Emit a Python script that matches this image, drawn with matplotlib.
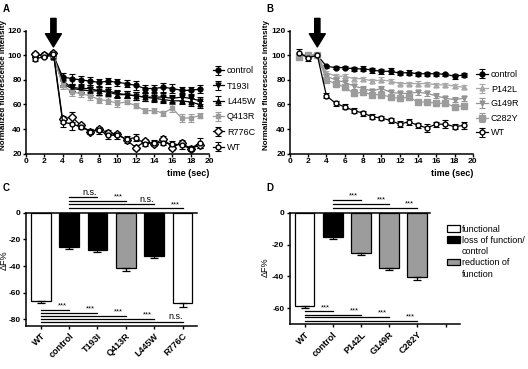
import numpy as np
import matplotlib.pyplot as plt
from matplotlib.patches import Patch

plt.rcParams['font.family'] = ['Liberation Sans', 'DejaVu Sans']
plt.rcParams['font.size'] = 6.5
plt.rcParams['axes.linewidth'] = 1.1
plt.rcParams['axes.unicode_minus'] = False

# time points (sec)
t = np.arange(1, 20)

# panel A: normalized fluorescence intensity
a_control = [100, 100, 100, 82.5, 81, 80, 79, 78, 79, 78, 77, 75.5, 73, 73, 74, 73, 71.5, 71.5, 72.5]
a_control_err = [1.5, 1.5, 1.5, 3, 4, 3, 3, 3, 2.5, 3, 3, 3.5, 3, 3, 3.5, 3.5, 3, 3, 3.5]
a_t193i = [100, 100, 100, 79, 74, 73, 73, 71, 71, 69, 68, 67, 66, 66, 66, 65, 66, 65, 63]
a_t193i_err = [1.5, 1.5, 1.5, 3, 3, 3, 3, 3, 3, 3, 3, 3, 3, 3, 3, 3, 3, 3, 3]
a_l445w = [100, 100, 99, 77, 73, 72, 71, 71, 70, 68, 68, 67, 66, 65, 64, 63, 63, 62, 60]
a_l445w_err = [1.5, 1.5, 1.5, 3, 3, 3, 3, 3, 3, 3, 3, 3, 3, 3, 3, 3, 3, 3, 3]
a_q413r = [101, 100, 100, 76, 70, 69, 67, 64, 63, 61, 62, 59, 55, 55, 53, 57, 49, 49, 51]
a_q413r_err = [1.5, 1.5, 1.5, 3, 3, 3, 3, 3, 3, 3, 2, 2, 2, 2, 2, 3, 3, 3, 2]
a_r776c = [101, 100, 102, 48, 50, 43, 38, 40, 37, 36, 31, 25, 30, 28, 32, 25, 29, 24, 27]
a_r776c_err = [1.5, 1.5, 1.5, 3, 4, 2, 2, 2, 2, 2, 2, 2, 2, 2, 2, 2, 2, 2, 2]
a_wt = [97, 99, 101, 46, 44, 42, 38, 39, 35, 35, 32, 33, 28, 29, 29, 28, 27, 24, 29]
a_wt_err = [1.5, 1.5, 1.5, 4, 5, 2, 2, 3, 3, 3, 2, 3, 2, 2, 2, 2, 3, 2, 4]

# panel B
b_control = [100, 100, 100, 91, 90, 90, 89, 89, 88, 87, 87, 85.5, 86, 85, 85, 85, 84.5, 83, 84]
b_control_err = [1.5, 1.5, 1.5, 1.5, 1.5, 1.5, 1.5, 2, 2, 2, 2.5, 1.5, 2, 1.5, 1.5, 1.5, 1.5, 2, 2]
b_p142l = [100, 100, 100, 86, 83, 83, 81, 81, 79, 80, 79, 77, 77, 77, 77, 76, 76, 75, 74]
b_p142l_err = [1.5, 1.5, 1.5, 1.5, 1.5, 1.5, 1.5, 1.5, 1.5, 2, 1.5, 1.5, 1.5, 2, 1.5, 1.5, 1.5, 1.5, 1.5]
b_g149r = [100, 100, 100, 83, 80, 78, 75, 73, 71, 73, 70, 69, 69, 70, 69, 67, 65, 64, 65]
b_g149r_err = [1.5, 1.5, 1.5, 2, 2, 2, 2, 2, 2, 2, 2, 2, 2, 2, 2, 2, 2, 2, 2]
b_c282y = [99, 100, 100, 80, 77, 74, 69, 70, 68, 68, 66, 65, 66, 62, 62, 61, 61, 58, 59]
b_c282y_err = [2, 1.5, 1.5, 2, 2, 2, 2, 2, 2, 2, 2, 2, 2, 2, 2, 2, 2, 2, 2]
b_wt = [102, 98, 100, 67, 61, 58, 55, 53, 50, 49, 47, 44, 46, 43, 41, 44, 44, 42, 43]
b_wt_err = [3, 3, 1.5, 2, 2, 2, 2, 2, 2, 2, 2, 2.5, 2.5, 2, 3, 2, 3, 2, 3]

# panel C: delta F %
c_labels = ['WT', 'control', 'T193I', 'Q413R', 'L445W', 'R776C']
c_vals = [-66, -26, -28, -41.5, -32.5, -68]
c_err = [1.5, 1.2, 1.5, 2, 1.5, 2.5]

# panel D
d_labels = ['WT', 'control', 'P142L', 'G149R', 'C282Y', '']
d_vals = [-58.5, -15, -25, -34.5, -40.5]
d_err = [1.5, 1.5, 1.5, 1.5, 2]

# significance annotations (end category, y of line, text)
c_top = [(2, 11.8, 'n.s.'), (3, 9.0, '***'), (4, 6.3, 'n.s.'), (5, 3.3, '***')]
c_bot = [(1, -72.7, '***'), (2, -75.2, '***'), (3, -77.4, '***'), (4, -79.7, '***'), (5, -81.9, 'n.s.')]
d_top = [(2, 7.9, '***'), (3, 5.4, '***'), (4, 3.1, '***')]
d_bot = [(1, -61.9, '***'), (2, -63.9, '***'), (3, -65.6, '***'), (4, -67.7, '***')]

GRAY = '#9c9c9c'
LGRAY = '#a8a8a8'

fig = plt.figure(figsize=(5.28, 3.69), dpi=100)


def line_panel(rect, series, label, leg_y, leg_sp):
    ax = fig.add_axes(rect)
    for y, e, name, mk, col, mfc, ms in series:
        ax.errorbar(t, y, yerr=e, marker=mk, color=col, mfc=mfc, mec=col,
                    ms=ms, lw=0.9, elinewidth=0.8, capsize=2, capthick=0.8, label=name)
    ax.set_xlim(0, 20)
    ax.set_ylim(20, 120)
    ax.set_xticks(range(0, 21, 2))
    ax.set_yticks(range(20, 121, 20))
    for s in ['top', 'right']:
        ax.spines[s].set_visible(False)
    ax.tick_params(direction='out', length=2, width=1, pad=1, labelsize=6)
    for lab in ax.get_xticklabels() + ax.get_yticklabels():
        lab.set_fontweight('bold')
    ax.set_xlabel('time (sec)', loc='right', fontweight='bold', labelpad=3)
    ax.set_ylabel('Normalized fluorescence intensity', fontweight='bold', fontsize=5.8)
    ax.yaxis.set_label_coords(-0.106, 0.56)
    ax.annotate('', xy=(3, 106.8), xytext=(3, 130), annotation_clip=False,
                arrowprops=dict(facecolor='black', edgecolor='black', width=3.8,
                                headwidth=11.5, headlength=9.5, shrink=0))
    handles, labels = ax.get_legend_handles_labels()
    ax.legend(handles, labels, loc='upper left', bbox_to_anchor=(1.0, leg_y),
              frameon=False, handlelength=1.3, handletextpad=0.3,
              labelspacing=leg_sp, borderaxespad=0, fontsize=6.5)
    fig.text(rect[0] - 0.044, 0.99, label, fontweight='bold', fontsize=7, va='top')
    return ax


line_panel([0.0492, 0.5835, 0.3466, 0.3333], [
    (a_control, a_control_err, 'control', 'o', 'black', 'black', 3.5),
    (a_t193i, a_t193i_err, 'T193I', 'v', 'black', 'black', 3.5),
    (a_l445w, a_l445w_err, 'L445W', '^', 'black', 'black', 3.5),
    (a_q413r, a_q413r_err, 'Q413R', 's', GRAY, GRAY, 3.5),
    (a_r776c, a_r776c_err, 'R776C', 'D', 'black', 'white', 4),
    (a_wt, a_wt_err, 'WT', 'o', 'black', 'white', 3.5),
], 'A', 0.74, 0.70)

line_panel([0.549, 0.5835, 0.3466, 0.3333], [
    (b_control, b_control_err, 'control', 'o', 'black', 'black', 3.5),
    (b_p142l, b_p142l_err, 'P142L', '^', LGRAY, LGRAY, 3.5),
    (b_g149r, b_g149r_err, 'G149R', 'v', '#949494', '#949494', 3.5),
    (b_c282y, b_c282y_err, 'C282Y', 's', GRAY, GRAY, 4),
    (b_wt, b_wt_err, 'WT', 'o', 'black', 'white', 3.5),
], 'B', 0.71, 0.62)


def bar_panel(rect, labels, vals, err, colors, ylo, yhi, ticks, top, bot, zero_end, label, ylab_xy):
    ax = fig.add_axes(rect)
    x = np.arange(len(vals))
    ax.bar(x, vals, width=0.7, color=colors, edgecolor='black', linewidth=0.9,
           yerr=[err, [0] * len(err)], capsize=3,
           error_kw=dict(elinewidth=0.9, capthick=0.9))
    ax.set_xlim(-0.52, 5.5)
    ax.set_ylim(ylo, yhi)
    ax.plot([-0.52, zero_end], [0, 0], color='black', lw=1.1, clip_on=False)
    for s in ['top', 'right']:
        ax.spines[s].set_visible(False)
    ax.spines['left'].set_bounds(ylo, 0)
    ax.set_yticks(ticks)
    ax.set_xticks(range(len(labels)))
    ax.set_xticklabels(labels, rotation=45, ha='right', rotation_mode='anchor', fontweight='bold')
    ax.tick_params(direction='out', length=2.5, width=1, pad=1.5)
    ax.tick_params(axis='y', labelsize=6)
    for lab in ax.get_yticklabels():
        lab.set_fontweight('bold')
    ax.set_ylabel('\u0394F%')
    ax.yaxis.set_label_coords(*ylab_xy)
    for end, y, txt in top:
        ax.plot([1, end], [y, y], color='black', lw=0.9)
        ax.text(end - 0.27, y + 0.3, txt, ha='center', va='bottom',
                fontsize=5.5 if txt == '***' else 6.5)
    for end, y, txt in bot:
        ax.plot([0, end], [y, y], color='black', lw=0.9)
        ax.text(end - 0.25, y + 0.3, txt, ha='center', va='bottom',
                fontsize=5.5 if txt == '***' else 6.5)
    fig.text(rect[0] - 0.044, 0.505, label, fontweight='bold', fontsize=7, va='top')
    return ax


bar_panel([0.0492, 0.1165, 0.3234, 0.3575], c_labels, c_vals, c_err,
          ['white', 'black', 'black', GRAY, 'black', 'white'],
          -85, 14, [0, -20, -40, -60, -80], c_top, c_bot, 5.5, 'C', (-0.1, 0.5))

axd = bar_panel([0.549, 0.121, 0.3216, 0.346], d_labels, d_vals, d_err,
                ['white', 'black', GRAY, GRAY, GRAY],
                -70, 10, [0, -20, -40, -60], d_top, d_bot, 4.45, 'D', (-0.118, 0.45))

blank = Patch(facecolor='none', edgecolor='none')
axd.legend(handles=[Patch(facecolor='white', edgecolor='black', lw=0.9),
                    Patch(facecolor='black', edgecolor='black', lw=0.9),
                    blank,
                    Patch(facecolor=GRAY, edgecolor='black', lw=0.9),
                    blank],
           labels=['functional', 'loss of function/', 'control', 'reduction of', 'function'],
           loc='upper left', bbox_to_anchor=(0.905, 0.81), frameon=False,
           handlelength=1.45, handleheight=0.75, handletextpad=0.2,
           labelspacing=0.25, borderaxespad=0, fontsize=6.5)

fig.savefig('out.png', dpi=100)
